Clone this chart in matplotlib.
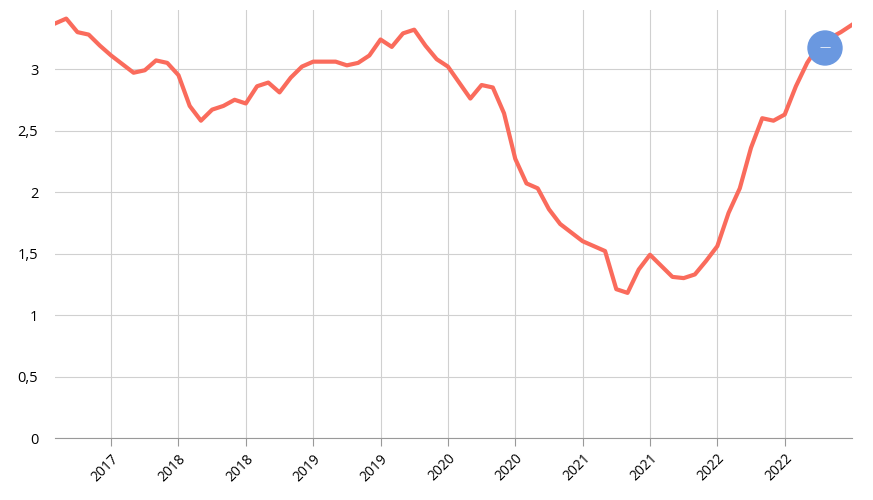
import matplotlib
matplotlib.use("Agg")
import matplotlib.pyplot as plt
from matplotlib.patches import Circle

plt.rcParams["font.family"] = ["Open Sans", "DejaVu Sans"]

# monthly values
values = [
    3.37, 3.41, 3.30, 3.28, 3.19, 3.11, 3.04, 2.97, 2.99, 3.07, 3.05, 2.95,
    2.70, 2.58, 2.67, 2.70, 2.75, 2.72, 2.86, 2.89, 2.81, 2.93, 3.02, 3.06,
    3.06, 3.06, 3.03, 3.05, 3.11, 3.24, 3.18, 3.29, 3.32, 3.19, 3.08, 3.02,
    2.89, 2.76, 2.87, 2.85, 2.64, 2.27, 2.07, 2.03, 1.86, 1.74, 1.67, 1.60,
    1.56, 1.52, 1.21, 1.18, 1.37, 1.49, 1.40, 1.31, 1.30, 1.33, 1.44, 1.56,
    1.83, 2.03, 2.36, 2.60, 2.58, 2.63, 2.86, 3.05, 3.19, 3.25, 3.30, 3.36,
]
tick_pos = [5, 11, 17, 23, 29, 35, 41, 47, 53, 59, 65]
tick_labels = ["2017", "2018", "2018", "2019", "2019", "2020",
               "2020", "2021", "2021", "2022", "2022"]
y_ticks = [0, 0.5, 1, 1.5, 2, 2.5, 3]
y_labels = ["0", "0,5", "1", "1,5", "2", "2,5", "3"]

fig = plt.figure(figsize=(8.73, 5), dpi=100)
ax = fig.add_axes([0.063, 0.124, 0.913, 0.856])
ax.plot(range(len(values)), values, color="#fa6b5c", linewidth=3, zorder=3,
        solid_joinstyle="round")
ax.set_xlim(0, 71)
ax.set_ylim(0, 3.48)
ax.set_xticks(tick_pos)
ax.set_xticklabels(tick_labels, rotation=45, ha="right", rotation_mode="anchor",
                   fontsize=10)
ax.set_yticks(y_ticks)
ax.set_yticklabels(y_labels, fontsize=10.5)
ax.grid(True, color="#d0d0d0", linewidth=0.8)
for s in ["top", "right", "left"]:
    ax.spines[s].set_visible(False)
ax.spines["bottom"].set_color("#999999")
ax.tick_params(axis="y", length=0, pad=12)
ax.tick_params(axis="x", length=6, color="#999999")

# the round button in the corner
fig.patches.append(Circle((825, 452), 17, transform=None, color="#6a98e0",
                          figure=fig, zorder=5))
fig.text(825 / 873, 452 / 500, "—", color="white", ha="center", va="center",
         fontsize=8, zorder=6)

fig.savefig("out.png", dpi=100)
